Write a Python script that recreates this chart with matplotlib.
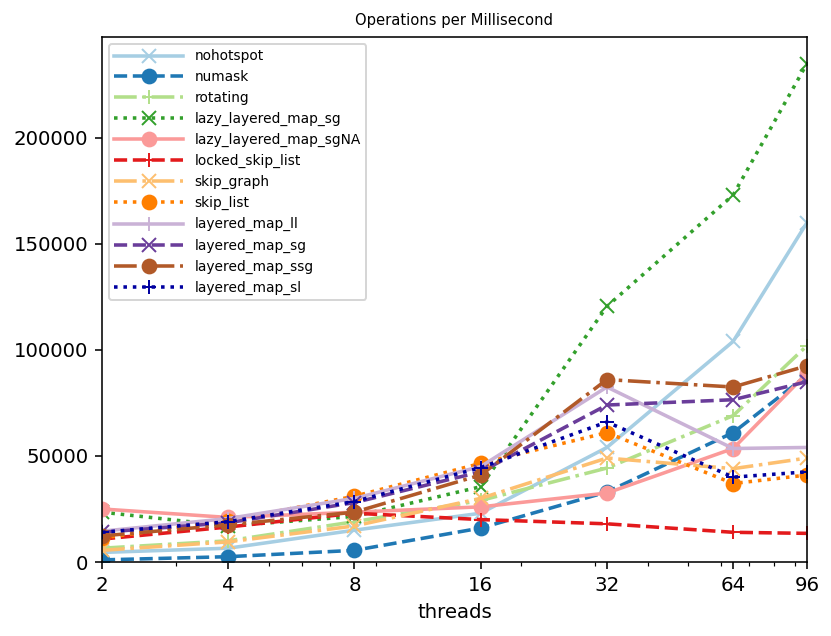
import matplotlib
matplotlib.use("Agg")
import matplotlib.pyplot as plt

threads = [2, 4, 8, 16, 32, 64, 96]
names = ["nohotspot", "numask", "rotating", "lazy_layered_map_sg",
         "lazy_layered_map_sgNA", "locked_skip_list", "skip_graph", "skip_list",
         "layered_map_ll", "layered_map_sg", "layered_map_ssg", "layered_map_sl"]

nohotspot = [4500, 6500, 15000, 23000, 54000, 104000, 160000]
numask = [1000, 2500, 5500, 16000, 33000, 61000, 88000]
rotating = [6500, 10000, 19000, 29000, 44300, 69000, 102000]
lazy_layered_map_sg = [23500, 17000, 21500, 35500, 120500, 173000, 235000]
lazy_layered_map_sgNA = [25000, 21000, 23500, 26000, 32500, 53500, 89000]
locked_skip_list = [10800, 16500, 23000, 20000, 18000, 14000, 13500]
skip_graph = [5500, 9500, 17000, 30000, 49000, 44000, 49000]
skip_list = [11300, 19500, 31000, 46500, 61000, 37000, 41000]
layered_map_ll = [14500, 20500, 30000, 45000, 82500, 53500, 54000]
layered_map_sg = [14000, 18500, 28000, 42500, 74000, 76500, 85000]
layered_map_ssg = [12300, 17500, 23500, 41000, 86000, 82500, 92500]
layered_map_sl = [14000, 19000, 28500, 44500, 66000, 40000, 42500]

series = [nohotspot, numask, rotating, lazy_layered_map_sg, lazy_layered_map_sgNA,
          locked_skip_list, skip_graph, skip_list, layered_map_ll, layered_map_sg,
          layered_map_ssg, layered_map_sl]

colors = ["#a6cee3", "#1f78b4", "#b2df8a", "#33a02c", "#fb9a99", "#e31a1c",
          "#fdbf6f", "#ff7f00", "#cab2d6", "#6a3d9a", "#b15928", "#0000a0"]
linestyles = ["-", "--", "-.", ":"]
markers = ["x", "o", "+"]

dpi = 142
fig = plt.figure(figsize=(831 / dpi, 636 / dpi), dpi=dpi)
ax = fig.add_axes([102 / 831, (636 - 562) / 636, 705 / 831, 525 / 636])

for i, (name, vals) in enumerate(zip(names, series)):
    ax.plot(threads, vals, color=colors[i], linestyle=linestyles[i % 4],
            marker=markers[i % 3], markersize=7, linewidth=1.8, label=name)

ax.set_xscale("log")
ax.set_xticks(threads, [str(t) for t in threads])
ax.set_xlim(2, 96)
ax.set_ylim(0, 247500)
ax.set_xlabel("threads", fontsize=10)
ax.set_title("Operations per Millisecond", fontsize=7.5)
ax.tick_params(axis="x", labelsize=10)
ax.tick_params(axis="y", labelsize=10)
ax.legend(loc="upper left", fontsize=7, handlelength=5.0, handletextpad=0.8,
          labelspacing=0.5)

fig.savefig("out.png", dpi=dpi)
